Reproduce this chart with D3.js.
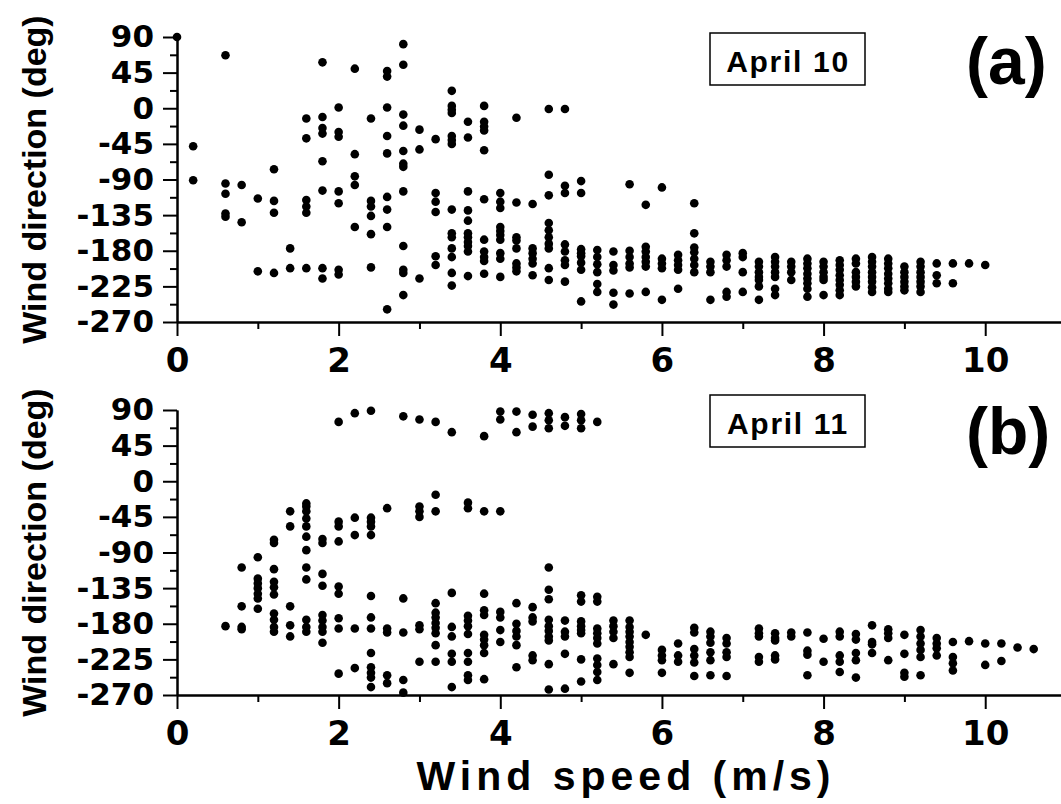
<!DOCTYPE html>
<html>
<head>
<meta charset="utf-8">
<script src="https://cdn.jsdelivr.net/npm/d3@7"></script>
<style>
  body { margin: 0; background: #fff; }
  svg { display: block; }
</style>
</head>
<body>
<div id="graphicContainer"></div>
<script>

// April 10 : wind speed columns (m/s) and the directions (deg) seen in each column
const speedsApr10 = [0, 0.2, 0.6, 0.8, 1.0, 1.2, 1.4, 1.6, 1.8, 2.0,
  2.2, 2.4, 2.6, 2.8, 3.0, 3.2, 3.4, 3.6, 3.8, 4.0,
  4.2, 4.4, 4.6, 4.8, 5.0, 5.2, 5.4, 5.6, 5.8, 6.0,
  6.2, 6.4, 6.6, 6.8, 7.0, 7.2, 7.4, 7.6, 7.8, 8.0,
  8.2, 8.4, 8.6, 8.8, 9.0, 9.2, 9.4, 9.6, 9.8, 10.0]

const dirsApr10 = [
  [90],
  [-48, -91],
  [67, -95, -108, -133, -137],
  [-97, -144],
  [-114, -206],
  [-77, -117, -132, -208],
  [-177, -202],
  [-13, -38, -116, -124, -132, -202],
  [58, -11, -25, -32, -67, -104, -202, -215],
  [1, -30, -36, -105, -120, -204, -210],
  [50, -58, -86, -97, -150],
  [-13, -117, -124, -136, -159, -201],
  [47, 40, 1, -35, -57, -112, -128, -150, -254],
  [81, 55, -8, -22, -54, -70, -74, -105, -174, -204, -208, -236],
  [-27, -52, -215],
  [-39, -107, -118, -131, -187, -198],
  [22, 3, -2, -6, -35, -40, -45, -128, -158, -163, -177, -188, -208, -224],
  [-17, -37, -105, -129, -142, -158, -163, -169, -174, -181, -212],
  [3, -17, -23, -28, -53, -115, -166, -181, -188, -193, -209],
  [-107, -118, -126, -150, -155, -160, -166, -183, -190, -213],
  [-12, -119, -163, -167, -177, -196, -201, -206],
  [-121, -177, -183, -190, -196, -211],
  [-1, -84, -110, -145, -154, -163, -171, -177, -202, -217],
  [-1, -98, -107, -172, -181, -192, -198, -219],
  [-92, -107, -178, -183, -187, -195, -204, -244],
  [-179, -188, -197, -207, -222, -232],
  [-181, -198, -205, -233, -248],
  [-96, -180, -188, -196, -201, -234],
  [-122, -175, -181, -188, -194, -200, -232],
  [-100, -190, -196, -202, -242],
  [-185, -192, -198, -204, -228],
  [-120, -158, -176, -182, -190, -198, -207],
  [-194, -200, -207, -242],
  [-185, -192, -200, -232, -238],
  [-183, -188, -207, -232],
  [-194, -200, -207, -213, -217, -225, -242],
  [-188, -194, -200, -207, -213, -228, -236],
  [-194, -200, -207, -217],
  [-190, -196, -202, -209, -215, -221, -228, -238],
  [-194, -200, -207, -213, -217, -236],
  [-192, -198, -204, -211, -217, -223, -230, -236],
  [-190, -196, -207, -213, -219, -225],
  [-188, -194, -200, -207, -213, -219, -226, -232],
  [-190, -196, -202, -209, -215, -221, -228, -232],
  [-200, -207, -213, -219, -225, -230],
  [-194, -200, -207, -213, -219, -225, -232],
  [-196, -211, -221],
  [-196, -221],
  [-196],
  [-198]
]

// April 11
const speedsApr11 = [0.6, 0.8, 1.0, 1.2, 1.4, 1.6, 1.8, 2.0, 2.2, 2.4,
  2.6, 2.8, 3.0, 3.2, 3.4, 3.6, 3.8, 4.0, 4.2, 4.4,
  4.6, 4.8, 5.0, 5.2, 5.4, 5.6, 5.8, 6.0, 6.2, 6.4,
  6.6, 6.8, 7.2, 7.4, 7.6, 7.8, 8.0, 8.2, 8.4, 8.6,
  8.8, 9.0, 9.2, 9.4, 9.6, 9.8, 10.0, 10.2, 10.4, 10.6]

const dirsApr11 = [
  [-183],
  [-109, -158, -184, -187],
  [-96, -123, -129, -135, -142, -148, -161],
  [-74, -78, -111, -127, -134, -143, -167, -175, -184, -190],
  [-38, -57, -158, -182, -196],
  [-28, -32, -38, -47, -57, -70, -87, -109, -124, -175, -184, -190],
  [-73, -78, -117, -132, -169, -176, -184, -190, -204],
  [75, -51, -57, -76, -133, -142, -173, -186, -243],
  [86, -46, -68, -186, -236],
  [89, -46, -51, -57, -68, -145, -172, -186, -217, -235, -242, -248, -260],
  [-34, -186, -191, -245, -255],
  [82, -148, -191, -251, -267],
  [78, -32, -38, -45, -182, -187, -228],
  [75, -17, -38, -154, -166, -172, -179, -185, -192, -207, -228],
  [62, -141, -184, -196, -218, -228, -260],
  [-27, -34, -170, -176, -183, -193, -217, -228, -245, -251],
  [57, -38, -142, -163, -169, -194, -200, -207, -217, -250],
  [88, 78, -38, -165, -172, -188, -203],
  [88, 62, -154, -180, -189, -196, -207, -235],
  [84, 69, -159, -172, -177, -220, -226],
  [86, 77, 67, -109, -137, -149, -175, -183, -189, -196, -201, -231, -263],
  [81, 70, -176, -190, -196, -218, -262],
  [85, 77, 67, -144, -152, -177, -183, -188, -192, -225, -253],
  [75, -146, -152, -186, -192, -198, -205, -224, -232, -241, -251],
  [-176, -183, -190, -198, -231],
  [-176, -184, -190, -196, -203, -209, -216, -222, -242],
  [-194],
  [-213, -220, -226, -242],
  [-205, -220, -228],
  [-185, -191, -212, -220, -229, -246],
  [-190, -196, -204, -216, -226, -245],
  [-198, -205, -216, -222, -246],
  [-186, -192, -196, -222, -228],
  [-192, -198, -201, -220, -225],
  [-191, -196],
  [-191, -214, -219, -245],
  [-199, -228],
  [-190, -196, -220, -228, -241],
  [-193, -200, -217, -226, -248],
  [-182, -203, -206, -217],
  [-187, -192, -198, -226],
  [-194, -218, -242, -247],
  [-188, -196, -205, -213, -222, -245],
  [-198, -205, -211, -220],
  [-203, -222, -230, -239],
  [-202],
  [-205, -232],
  [-205, -227],
  [-210],
  [-212]
]

const xTicks = [0, 2, 4, 6, 8, 10]
const xMinorTicks = [1, 3, 5, 7, 9]
const yTicks = [90, 45, 0, -45, -90, -135, -180, -225, -270]
const yMinorTicks = [67.5, 22.5, -22.5, -67.5, -112.5, -157.5, -202.5, -247.5]

const panelLabels = ["April 10", "April 11"]
const panelTags = ["(a)", "(b)"]

const width = 1061
const height = 804

const tickFont = "'DejaVu Sans', sans-serif"
const titleFont = "'Liberation Sans', Arial, sans-serif"

const panels = [
  { speeds: speedsApr10, dirs: dirsApr10, label: panelLabels[0], tag: panelTags[0], top: 37, bottom: 322, boxTop: 33, tagBase: 84 },
  { speeds: speedsApr11, dirs: dirsApr11, label: panelLabels[1], tag: panelTags[1], top: 410, bottom: 695, boxTop: 395, tagBase: 454 }
]

const svg = d3.select("#graphicContainer")
  .append("svg")
  .attr("width", width)
  .attr("height", height)

const x = d3.scaleLinear()
  .domain([0, 10.95])
  .range([177, 1062])

const thick = g => {
  g.selectAll("path, line").attr("stroke", "#000").attr("stroke-width", 2)
}

panels.forEach((p) => {

  const y = d3.scaleLinear()
    .domain([-270, 90])
    .range([p.bottom, p.top])

  const points = p.speeds.flatMap((s, i) => p.dirs[i].map(d => [s, d]))

  const panel = svg.append("g")

  // minor ticks first, no labels
  panel.append("g")
    .attr("transform", `translate(0,${p.bottom})`)
    .call(d3.axisBottom(x).tickValues(xMinorTicks).tickSize(7).tickSizeOuter(0).tickFormat(""))
    .call(thick)

  panel.append("g")
    .attr("transform", `translate(${x(0)},0)`)
    .call(d3.axisLeft(y).tickValues(yMinorTicks).tickSize(7).tickSizeOuter(0).tickFormat(""))
    .call(thick)

  panel.append("g")
    .attr("class", "x")
    .attr("transform", `translate(0,${p.bottom})`)
    .call(d3.axisBottom(x).tickValues(xTicks).tickSize(14).tickSizeOuter(0).tickFormat(d => String(d)))
    .call(thick)
    .attr("font-family", tickFont)
    .attr("font-size", 34)
    .attr("font-weight", "bold")
    .call(g => g.selectAll("text")
      .attr("y", 50)
      .attr("dy", null)
      .attr("fill", "#000"))

  panel.append("g")
    .attr("class", "y")
    .attr("transform", `translate(${x(0)},0)`)
    .call(d3.axisLeft(y).tickValues(yTicks).tickSize(14).tickSizeOuter(0).tickPadding(9).tickFormat(d => String(d)))
    .call(thick)
    .attr("font-family", tickFont)
    .attr("font-size", 31)
    .attr("font-weight", "bold")
    .call(g => g.selectAll("text").attr("fill", "#000"))

  panel.selectAll(".dot")
    .data(points)
    .enter()
    .append("circle")
    .attr("class", "dot")
    .attr("cx", d => x(d[0]))
    .attr("cy", d => y(d[1]))
    .attr("r", 4.3)
    .style("fill", "#000")

  // date box
  panel.append("rect")
    .attr("x", 710)
    .attr("y", p.boxTop)
    .attr("width", 155)
    .attr("height", 52)
    .attr("fill", "none")
    .attr("stroke", "#000")
    .attr("stroke-width", 1.5)

  panel.append("text")
    .attr("x", 788)
    .attr("y", p.boxTop + 39)
    .attr("text-anchor", "middle")
    .attr("font-family", titleFont)
    .attr("font-weight", "bold")
    .attr("font-size", 30)
    .style("letter-spacing", "1.7px")
    .text(p.label)

  panel.append("text")
    .attr("x", 966)
    .attr("y", p.tagBase)
    .attr("font-family", titleFont)
    .attr("font-weight", "bold")
    .attr("font-size", 66)
    .text(p.tag)

  panel.append("text")
    .attr("transform", `translate(46,${(p.top + p.bottom) / 2}) rotate(-90)`)
    .attr("text-anchor", "middle")
    .attr("font-family", titleFont)
    .attr("font-weight", "bold")
    .attr("font-size", 34)
    .text("Wind direction (deg)")

})

svg.append("text")
  .attr("x", 626)
  .attr("y", 790)
  .attr("text-anchor", "middle")
  .attr("font-family", titleFont)
  .attr("font-weight", "bold")
  .attr("font-size", 41)
  .style("letter-spacing", "5px")
  .text("Wind speed (m/s)")

</script>
</body>
</html>
